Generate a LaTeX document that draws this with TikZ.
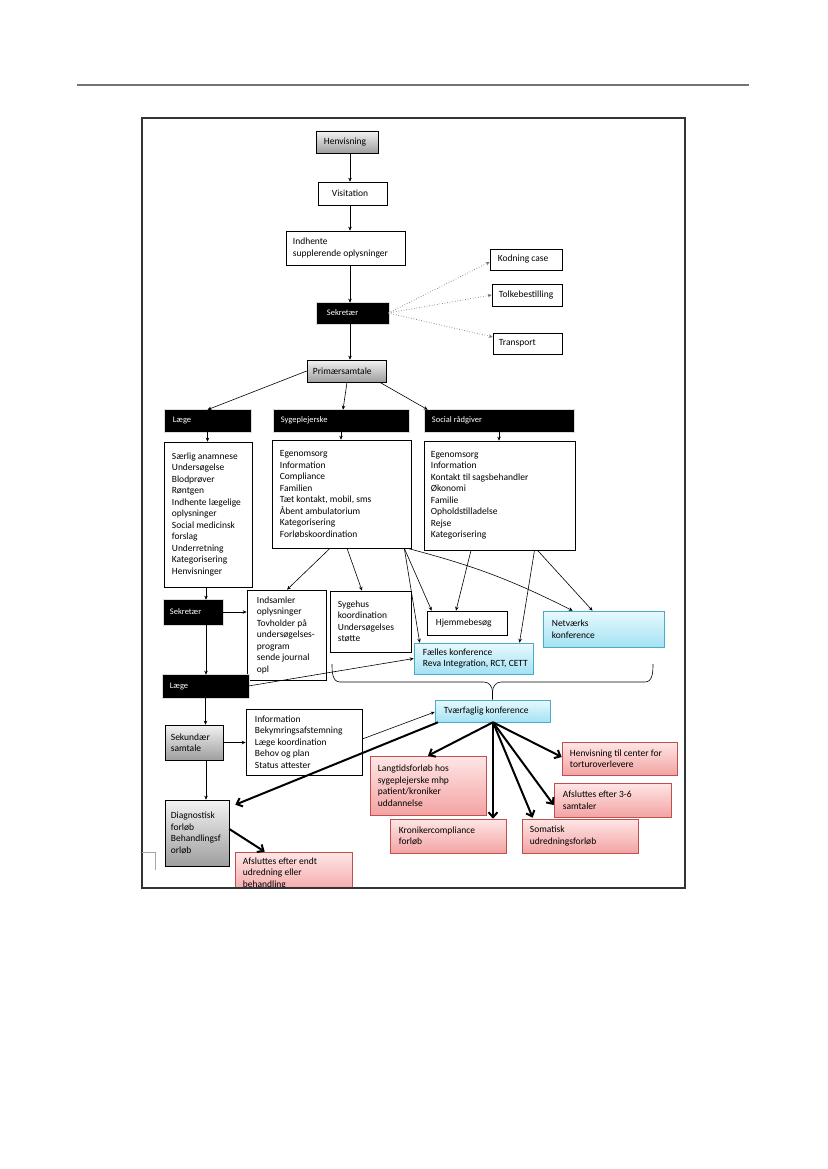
\documentclass[tikz,border=0pt]{standalone}
\usepackage{fontspec}
\setmainfont{Carlito}
\usetikzlibrary{arrows.meta}
\definecolor{bluefr}{HTML}{4BACC6}
\definecolor{bluetop}{HTML}{E8F9FE}
\definecolor{bluebot}{HTML}{A3E2F3}
\definecolor{redfr}{HTML}{C0504D}
\definecolor{redtop}{HTML}{FFE6E6}
\definecolor{redbot}{HTML}{F3A3A3}
\newcommand\bx[9]{%
  \node[#2, minimum width=#6pt, minimum height=#7pt] (#1) at (#4,#5) {};
  \node[#3, anchor=west, align=left, inner sep=0pt] (#1t) at ([xshift=#8pt]#1.west) {#9};}
\begin{document}
\begin{tikzpicture}[x=1pt,y=-1pt]
\tikzset{
  bxs/.style={draw=black, line width=0.6pt, inner sep=0pt},
  wbox/.style={bxs, fill=white},
  gbox/.style={bxs, top color=black!5, bottom color=black!38},
  kbox/.style={bxs, fill=black, preaction={draw=black!14, line width=3pt}},
  bbox/.style={bxs, draw=bluefr, top color=bluetop, bottom color=bluebot},
  rbox/.style={bxs, draw=redfr, top color=redtop, bottom color=redbot},
  tx/.style={font=\fontsize{9.5}{11.5}\selectfont, text=black},
  hx/.style={font=\fontsize{8.5}{10}\selectfont, text=white},
  arr/.style={-{Stealth[length=4pt,width=3.5pt]}, line width=0.6pt},
  dotarr/.style={arr, dotted, draw=black!55, line width=0.8pt},
  tarr/.style={-{Straight Barb[length=5pt,width=9pt]}, line width=2pt}
}
\useasboundingbox (0,0) rectangle (827,1169);
\fill[white] (0,0) rectangle (827,1169);
\draw[black!55, line width=1.5pt] (77,85) -- (749,85);

% top chain
\bx{henv}{gbox}{tx}{347}{142}{62}{22}{8}{Henvisning}
\bx{visit}{wbox}{tx}{352.5}{193.5}{69}{23}{14}{Visitation}
\bx{indh}{wbox}{tx}{345.5}{248}{119}{34}{7}{Indhente\\supplerende oplysninger}
\bx{kod}{wbox}{tx}{526}{259.5}{72}{21}{8}{Kodning case}
\bx{tolk}{wbox}{tx}{527}{295}{70}{22}{7}{Tolkebestilling}
\bx{trans}{wbox}{tx}{527.5}{343.5}{69}{21}{6}{Transport}
\bx{sek1}{kbox}{hx}{352.5}{313}{71}{20}{10}{Sekretær}
\bx{prim}{gbox}{tx}{346.5}{371}{79}{22}{6}{Primærsamtale}

% headers
\bx{laegeH}{kbox}{hx}{207.5}{420.5}{85}{21}{8}{Læge}
\bx{sygH}{kbox}{hx}{341}{420.5}{134}{21}{7}{Sygeplejerske}
\bx{socH}{kbox}{hx}{499}{420.5}{148}{21}{7}{Social rådgiver}

% lists
\bx{laegeL}{wbox}{tx}{208}{514.5}{88}{145}{8}{Særlig anamnese\\Undersøgelse\\Blodprøver\\Røntgen\\Indhente lægelige\\oplysninger\\Social medicinsk\\forslag\\Underretning\\Kategorisering\\Henvisninger}
\bx{sygL}{wbox}{tx}{341.5}{494}{139}{108}{8}{Egenomsorg\\Information\\Compliance\\Familien\\Tæt kontakt, mobil, sms\\Åbent ambulatorium\\Kategorisering\\Forløbskoordination}
\bx{socL}{wbox}{tx}{499.5}{495.5}{151}{109}{7}{Egenomsorg\\Information\\Kontakt til sagsbehandler\\Økonomi\\Familie\\Opholdstilladelse\\Rejse\\Kategorisering}

% middle row
\bx{sek2}{kbox}{hx}{193}{612}{58}{24}{6}{Sekretær}
\bx{indsam}{wbox}{tx}{286.5}{635}{79}{90}{10}{Indsamler\\oplysninger\\Tovholder på\\undersøgelses-\\program\\sende journal\\opl}
\bx{sygehus}{wbox}{tx}{370.5}{621.5}{81}{61}{8}{Sygehus\\koordination\\Undersøgelses\\støtte}
\bx{hjem}{wbox}{tx}{467}{623}{80}{24}{9}{Hjemmebesøg}
\bx{netv}{bbox}{tx}{603.5}{629}{121}{36}{9}{Netværks\\konference}
\bx{faelles}{bbox}{tx}{473.5}{658.5}{119}{31}{9}{Fælles konference\\Reva Integration, RCT, CETT}
\bx{laege2}{kbox}{hx}{205.5}{686}{85}{22}{7}{Læge}

% lower
\bx{tvaer}{bbox}{tx}{492.5}{711}{115}{22}{9}{Tværfaglig konference}
\bx{sekund}{gbox}{tx}{194}{742.5}{58}{35}{6}{Sekundær\\samtale}
\bx{info}{wbox}{tx}{304}{742}{116}{66}{9}{Information\\Bekymringsafstemning\\Læge koordination\\Behov og plan\\Status attester}
\bx{diag}{gbox}{tx}{197}{833}{64}{66}{6}{Diagnostisk\\forløb\\Behandlingsf\\orløb}
\bx{lang}{rbox}{tx}{428}{785.5}{116}{59}{8}{Langtidsforløb hos\\sygeplejerske mhp\\patient/kroniker\\uddannelse}
\bx{henvc}{rbox}{tx}{619.5}{758.5}{115}{33}{8}{Henvisning til center for\\torturoverlevere}
\bx{afsl36}{rbox}{tx}{612.5}{800}{117}{34}{9}{Afsluttes efter 3-6\\samtaler}
\bx{kron}{rbox}{tx}{448}{836}{116}{34}{9}{Kronikercompliance\\forløb}
\bx{somat}{rbox}{tx}{580}{836}{116}{34}{8}{Somatisk\\udredningsforløb}
\begin{scope}
\clip (142,118) rectangle (685,888);
\bx{afsl}{rbox}{tx}{293.5}{873.5}{117}{43}{8}{Afsluttes efter endt\\udredning eller\\behandling}
\end{scope}

% frame
\draw[black!80, line width=1.2pt] (142,118) rectangle (685,888);
\draw[black!35, line width=0.6pt] (142,852) -- (155,852) -- (155,870);

% top connectors
\draw[arr] ([xshift=3pt]henv.south) -- ([xshift=3pt]henv.south |- visit.north);
\draw[arr] ([xshift=-2.5pt]visit.south) -- ([xshift=-2.5pt]visit.south |- indh.north);
\draw[arr] ([xshift=4.5pt]indh.south) -- ([xshift=4.5pt]indh.south |- sek1.north);
\draw[arr] ([xshift=-2.5pt]sek1.south) -- ([xshift=-2.5pt]sek1.south |- prim.north);
\draw[dotarr] (sek1.east) -- ([yshift=-2.5pt]kod.west);
\draw[dotarr] (sek1.east) -- (tolk.west);
\draw[dotarr] (sek1.east) -- ([yshift=6.5pt]trans.west);

\draw[arr] (prim.west) -- (laegeH.north);
\draw[arr] ([xshift=0.5pt]prim.south) -- ([xshift=2pt]sygH.north);
\draw[arr] ([xshift=-6.5pt]prim.south east) -- ([xshift=3pt]socH.north west);
\draw[arr] (laegeH.south) -- (laegeH.south |- laegeL.north);
\draw[arr] (sygH.south) -- (sygH.south |- sygL.north);
\draw[arr] (socH.south) -- (socH.south |- socL.north);

\draw[arr] ([xshift=-2pt]laegeL.south) -- ([xshift=-2pt]laegeL.south |- sek2.north);
\draw[arr] (sek2.east) -- (sek2.east -| indsam.west);
\draw[arr] ([xshift=13pt]sek2.south) -- ([xshift=13pt]sek2.south |- laege2.north);
\draw[arr] (laege2.south) -- (laege2.south |- sekund.north);
\draw[arr] ([xshift=12pt]sekund.south) -- ([xshift=12pt]sekund.south |- diag.north);
\draw[arr] (sekund.east) -- (sekund.east -| info.west);
\draw[arr] (laege2.east) -- (faelles.west);

\draw[arr] ([xshift=-11.5pt]sygL.south) -- ([xshift=0.5pt]indsam.north);
\draw[arr] ([xshift=5.5pt]sygL.south) -- ([xshift=-8.5pt]sygehus.north);
\draw[arr] ([xshift=-7pt]sygL.south east) -- ([xshift=5pt]hjem.north west);
\draw[arr] ([xshift=-7pt]sygL.south east) -- ([xshift=6pt]faelles.north west);
\draw[arr] ([xshift=-4pt]sygL.south east) to[bend left=6] ([xshift=30pt]netv.north west);
\draw[arr] ([xshift=-28.5pt]socL.south) -- ([xshift=-11pt]hjem.north);
\draw[arr] ([xshift=35pt]socL.south) -- ([xshift=46pt]faelles.north);
\draw[arr] ([xshift=38pt]socL.south) -- ([xshift=-11pt]netv.north);

% brace
\coordinate (brL) at (332,664);
\coordinate (brR) at (653,664);
\draw[line width=0.6pt] (brL) to[out=-90,in=180] (340,682) -- (484,682) to[out=0,in=90] (492.5,692) -- (tvaer.north);
\draw[line width=0.6pt] (brR) to[out=-90,in=0] (645,682) -- (501,682) to[out=180,in=90] (492.5,692);

% lower connectors
\draw[arr] ([yshift=3pt]info.east) -- ([yshift=-1pt]tvaer.west);
\draw[tarr] ([xshift=-54.5pt]tvaer.south) -- ([xshift=6pt,yshift=-5pt]diag.north east);
\draw[tarr] ([yshift=4pt]diag.east) -- ([xshift=30pt]afsl.north west);
\draw[tarr] ([xshift=0.5pt]tvaer.south) -- (lang.north);
\draw[tarr] ([xshift=0.5pt]tvaer.south) -- ([xshift=45pt]kron.north);
\draw[tarr] ([xshift=0.5pt]tvaer.south) -- ([xshift=11pt,yshift=1pt]somat.north west);
\draw[tarr] ([xshift=0.5pt]tvaer.south) -- ([yshift=-5pt]afsl36.west);
\draw[tarr] ([xshift=0.5pt]tvaer.south) -- ([yshift=1.5pt]henvc.west);
\end{tikzpicture}
\end{document}
